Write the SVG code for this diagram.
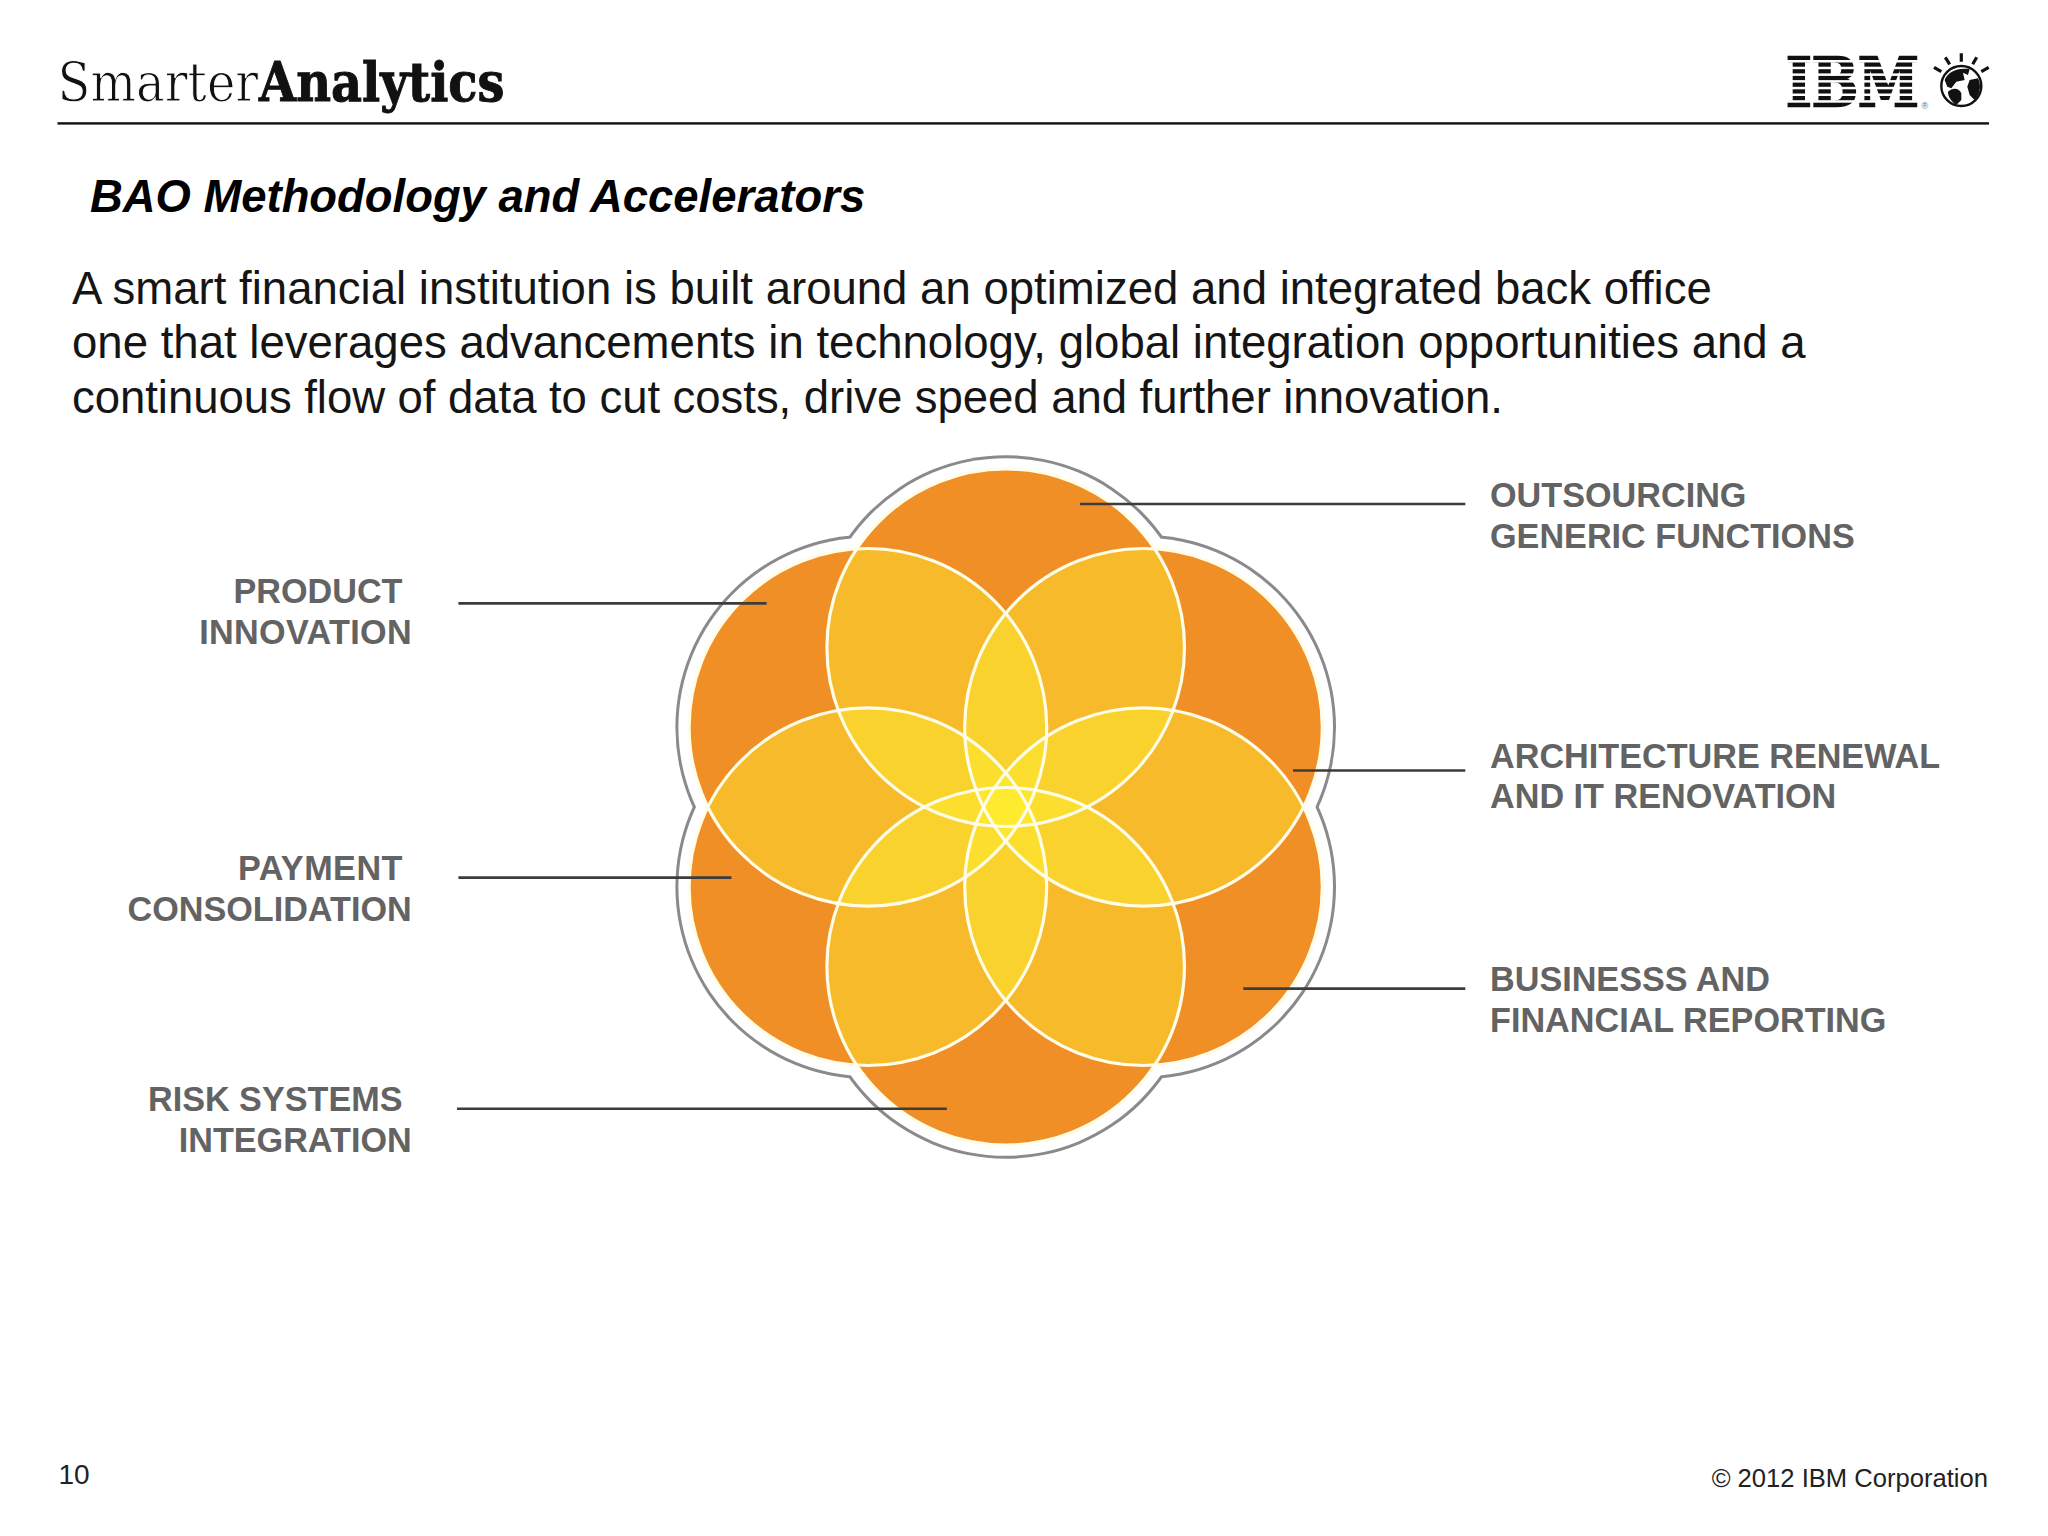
<svg xmlns="http://www.w3.org/2000/svg" width="2048" height="1536" viewBox="0 0 2048 1536">
<style>
text{font-family:"Liberation Sans",Arial,sans-serif}
.lab{font-size:34.2px;font-weight:700;fill:#636363}
.end{text-anchor:end}
.body{font-size:45.56px;fill:#151515}
.halo{fill:#8a8a8a}
.gap{fill:#fff}
.base{fill:#E2401C}
.over{fill:#FFF030;fill-opacity:.45}
.edge{fill:none;stroke:#FFFCE8;stroke-width:3.2}
.conn{stroke:#3c3c3c;stroke-width:2.6;fill:none}
.ray{stroke:#111;stroke-width:3.2;fill:none}
</style>
<defs>
<circle id="c1" cx="1005.7" cy="647.7" r="178.8"/>
<circle id="c2" cx="1143.5" cy="727.3" r="178.8"/>
<circle id="c3" cx="1143.5" cy="886.7" r="178.8"/>
<circle id="c4" cx="1005.7" cy="966.3" r="178.8"/>
<circle id="c5" cx="867.9" cy="886.7" r="178.8"/>
<circle id="c6" cx="867.9" cy="727.3" r="178.8"/>
</defs>
<rect width="2048" height="1536" fill="#fff"/>
<g id="header">
<text transform="translate(57.5 100.5) scale(.89 1)" font-size="54" style="font-family:'DejaVu Serif',serif" fill="#111" stroke="#fff" stroke-width="1.1">Smarter</text>
<text transform="translate(259 100.5) scale(.887 1)" font-size="54" font-weight="700" style="font-family:'DejaVu Serif',serif" fill="#111" stroke="#111" stroke-width="1">Analytics</text>
<rect x="57.5" y="122.2" width="1931.5" height="2.4" fill="#111"/>
</g>
<g id="ibm-logo">
<text transform="translate(1786 105.5) scale(.808 1)" font-size="68" font-weight="700" style="font-family:'DejaVu Serif',serif" fill="#111" stroke="#111" stroke-width="2.5">IBM</text>
<g fill="#fff">
<rect x="1780" y="60" width="145" height="2.5"/><rect x="1780" y="66.7" width="145" height="2.5"/><rect x="1780" y="73.4" width="145" height="2.5"/><rect x="1780" y="80.1" width="145" height="2.5"/><rect x="1780" y="86.8" width="145" height="2.5"/><rect x="1780" y="93.5" width="145" height="2.5"/><rect x="1780" y="100.2" width="145" height="2.5"/>
</g>
<text x="1921.5" y="108.5" font-size="9" fill="#666">®</text>
<circle cx="1961.3" cy="86" r="20" fill="#fff" stroke="#111" stroke-width="2.4"/>
<g transform="translate(1748 30) scale(.3333)" fill="#111">
<path d="M590 150C600 125 630 112 665 118L660 135 645 128 650 150 625 155 610 175 598 170Z"/>
<path d="M665 150L690 145C700 165 698 190 680 210L665 195 658 170Z"/>
<path d="M600 185C615 170 635 175 640 190V210L625 225C610 215 600 200 600 185Z"/>
</g>
<path class="ray" d="M1961.3 53.3V61.7M1945.3 57.3L1949.7 64.3M1976.7 57.3L1972.7 64.3M1934 67.3L1941.3 71.7M1988.7 67.3L1981.3 71.7"/>
</g>
<text id="title" x="90" y="211.7" font-size="45.4" font-weight="700" font-style="italic" fill="#000">BAO Methodology and Accelerators</text>
<g id="intro">
<text class="body" x="72" y="304">A smart financial institution is built around an optimized and integrated back office</text>
<text class="body" x="72" y="358">one that leverages advancements in technology, global integration opportunities and a</text>
<text class="body" x="72" y="413" textLength="1431">continuous flow of data to cut costs, drive speed and further innovation.</text>
</g>
<g id="flower">
<g class="halo"><circle cx="1005.7" cy="647.7" r="192.5"/><circle cx="1143.5" cy="727.3" r="192.5"/><circle cx="1143.5" cy="886.7" r="192.5"/><circle cx="1005.7" cy="966.3" r="192.5"/><circle cx="867.9" cy="886.7" r="192.5"/><circle cx="867.9" cy="727.3" r="192.5"/></g>
<g class="gap"><circle cx="1005.7" cy="647.7" r="189.5"/><circle cx="1143.5" cy="727.3" r="189.5"/><circle cx="1143.5" cy="886.7" r="189.5"/><circle cx="1005.7" cy="966.3" r="189.5"/><circle cx="867.9" cy="886.7" r="189.5"/><circle cx="867.9" cy="727.3" r="189.5"/></g>
<g class="base"><use href="#c1"/><use href="#c2"/><use href="#c3"/><use href="#c4"/><use href="#c5"/><use href="#c6"/></g>
<g id="petal-outsourcing" class="over"><use href="#c1"/></g>
<g id="petal-architecture" class="over"><use href="#c2"/></g>
<g id="petal-business" class="over"><use href="#c3"/></g>
<g id="petal-risk" class="over"><use href="#c4"/></g>
<g id="petal-payment" class="over"><use href="#c5"/></g>
<g id="petal-product" class="over"><use href="#c6"/></g>
<g class="edge"><use href="#c1"/><use href="#c2"/><use href="#c3"/><use href="#c4"/><use href="#c5"/><use href="#c6"/></g>
</g>
<g id="connectors" class="conn">
<path d="M1080 504H1465.3"/><path d="M458.4 603.4H766.6"/><path d="M1293 770.5H1465.3"/><path d="M458.4 877.6H731.4"/><path d="M1243.3 988.6H1465.3"/><path d="M457 1108.8H946.8"/>
</g>
<g id="label-outsourcing" class="lab"><text x="1490" y="507.4">OUTSOURCING</text><text x="1490" y="548.4">GENERIC FUNCTIONS</text></g>
<g id="label-architecture" class="lab"><text x="1490" y="768.4">ARCHITECTURE RENEWAL</text><text x="1490" y="808.4">AND IT RENOVATION</text></g>
<g id="label-business" class="lab"><text x="1490" y="991">BUSINESSS AND</text><text x="1490" y="1032">FINANCIAL REPORTING</text></g>
<g id="label-product" class="lab end"><text x="402.5" y="603">PRODUCT</text><text x="411.7" y="643.5" textLength="212.5">INNOVATION</text></g>
<g id="label-payment" class="lab end"><text x="402.5" y="880" textLength="164.5">PAYMENT</text><text x="411.7" y="920.5">CONSOLIDATION</text></g>
<g id="label-risk" class="lab end"><text x="402.5" y="1111">RISK SYSTEMS</text><text x="411.7" y="1152">INTEGRATION</text></g>
<g id="footer">
<text x="58.5" y="1484" font-size="28" fill="#222">10</text>
<text x="1988" y="1487" font-size="25.6" fill="#222" text-anchor="end">© 2012 IBM Corporation</text>
</g>
</svg>
